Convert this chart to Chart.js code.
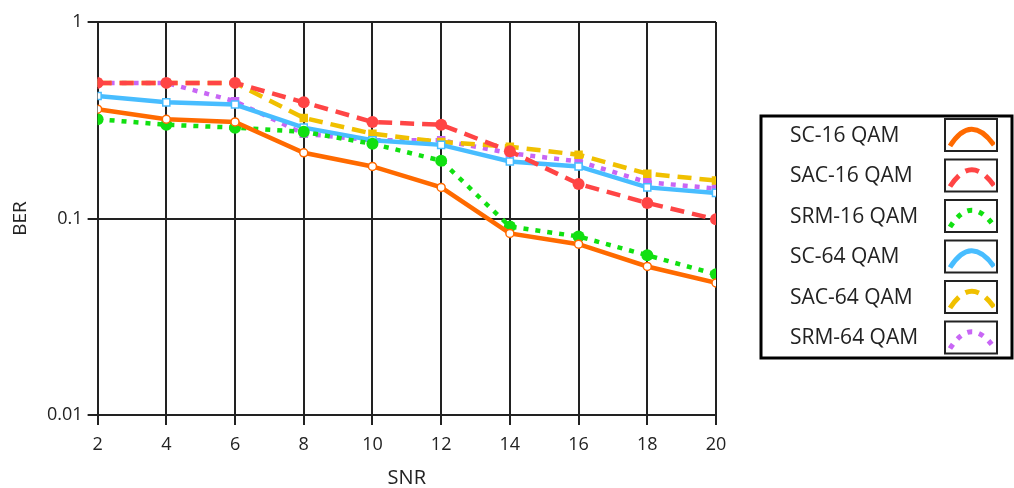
<!DOCTYPE html>
<html lang="en">
<head>
    <meta charset="UTF-8">
    <title>BER vs SNR</title>
    <script src="https://cdn.jsdelivr.net/npm/chart.js"></script>
    <style>
        html, body {
            margin: 0;
            padding: 0;
            background: #ffffff;
        }
        .chart-container {
            width: 1014px;
            height: 488px;
        }
    </style>
</head>
<body>
<div class="chart-container">
    <canvas id="berChart"></canvas>
</div>

<script>
    const snr = [2, 4, 6, 8, 10, 12, 14, 16, 18, 20];
    const yTicks = [0.01, 0.1, 1];

    const sc16 = [0.36, 0.32, 0.31, 0.216, 0.184, 0.144, 0.084, 0.074, 0.057, 0.047];
    const sac16 = [0.49, 0.49, 0.49, 0.39, 0.31, 0.30, 0.22, 0.15, 0.12, 0.099];
    const srm16 = [0.32, 0.30, 0.29, 0.276, 0.24, 0.197, 0.091, 0.081, 0.065, 0.052];
    const sc64 = [0.42, 0.39, 0.38, 0.29, 0.25, 0.237, 0.195, 0.184, 0.144, 0.135];
    const sac64 = [0.49, 0.49, 0.49, 0.325, 0.27, 0.245, 0.232, 0.211, 0.169, 0.156];
    const srm64 = [0.49, 0.49, 0.395, 0.27, 0.25, 0.25, 0.215, 0.195, 0.153, 0.142];

    const FONT = '"Open Sans", "Noto Sans", sans-serif';

    function series(label, values, color, dash, pointStyle, filled, radius) {
        return {
            label: label,
            data: snr.map((x, i) => ({ x: x, y: values[i] })),
            borderColor: color,
            backgroundColor: filled ? color : '#ffffff',
            borderWidth: 4.5,
            borderDash: dash,
            pointStyle: pointStyle,
            pointRadius: radius,
            pointBorderWidth: filled ? 0 : 1.5,
            pointBorderColor: color,
            pointBackgroundColor: filled ? color : '#ffffff',
            tension: 0
        };
    }

    // legend box drawn at the right, like the original instrument panel
    const sideLegend = {
        id: 'sideLegend',
        afterDraw(chart) {
            const ctx = chart.ctx;
            const bx = 761, by = 116, bw = 251, bh = 242;
            ctx.save();
            ctx.strokeStyle = '#000';
            ctx.lineWidth = 3;
            ctx.strokeRect(bx, by, bw, bh);
            ctx.restore();

            chart.data.datasets.forEach((ds, i) => {
                const cy = 135 + i * 40.5;
                ctx.save();
                ctx.fillStyle = '#222';
                ctx.font = '21px ' + FONT;
                ctx.textBaseline = 'middle';
                ctx.textAlign = 'left';
                ctx.fillText(ds.label, 790, cy + 1);

                // sample box
                const sx = 945, sy = cy - 16, sw = 52, sh = 32;
                ctx.lineWidth = 2;
                ctx.strokeStyle = '#222';
                ctx.strokeRect(sx, sy, sw, sh);

                ctx.beginPath();
                ctx.rect(sx + 2, sy + 2, sw - 4, sh - 4);
                ctx.clip();
                ctx.beginPath();
                ctx.moveTo(sx + 5, sy + sh - 5);
                ctx.quadraticCurveTo(sx + sw / 2, sy - 6, sx + sw - 3, sy + sh - 6);
                ctx.strokeStyle = ds.borderColor;
                ctx.lineWidth = 5;
                ctx.setLineDash(ds.borderDash || []);
                ctx.stroke();
                ctx.restore();
            });
        }
    };

    const ctx = document.getElementById('berChart').getContext('2d');
    new Chart(ctx, {
        type: 'line',
        data: {
            datasets: [
                series('SC-16 QAM', sc16, '#ff6a00', [], 'circle', false, 4),
                series('SAC-16 QAM', sac16, '#ff4545', [14, 8], 'circle', true, 6),
                series('SRM-16 QAM', srm16, '#11e011', [5, 7], 'circle', true, 6),
                series('SC-64 QAM', sc64, '#48bdff', [], 'rect', false, 5),
                series('SAC-64 QAM', sac64, '#f0c000', [14, 8], 'rect', true, 6),
                series('SRM-64 QAM', srm64, '#c866f5', [5, 7], 'rect', true, 6)
            ]
        },
        options: {
            responsive: true,
            maintainAspectRatio: false,
            animation: false,
            layout: {
                padding: { top: 22, right: 298, bottom: 0, left: 11 }
            },
            plugins: {
                legend: { display: false },
                tooltip: { enabled: false }
            },
            scales: {
                x: {
                    type: 'linear',
                    min: 2,
                    max: 20,
                    ticks: {
                        stepSize: 2,
                        color: '#222',
                        font: { family: FONT, size: 18, lineHeight: 1 },
                        padding: 11
                    },
                    grid: {
                        color: '#222',
                        lineWidth: 2,
                        tickLength: 10
                    },
                    border: { color: '#222', width: 2 },
                    title: {
                        display: true,
                        text: 'SNR',
                        color: '#222',
                        font: { family: FONT, size: 20, lineHeight: 1 },
                        padding: { top: 3, bottom: 0 }
                    }
                },
                y: {
                    type: 'logarithmic',
                    min: 0.01,
                    max: 1,
                    afterBuildTicks(axis) {
                        axis.ticks = yTicks.map(v => ({ value: v }));
                    },
                    ticks: {
                        color: '#222',
                        font: { family: FONT, size: 18, lineHeight: 1 },
                        padding: 5,
                        callback: v => String(v)
                    },
                    grid: {
                        color: '#222',
                        lineWidth: 2,
                        tickLength: 10
                    },
                    border: { color: '#222', width: 2 },
                    title: {
                        display: true,
                        text: 'BER',
                        color: '#222',
                        font: { family: FONT, size: 19, lineHeight: 1 },
                        padding: { top: 0, bottom: 12 }
                    }
                }
            }
        },
        plugins: [sideLegend]
    });
</script>
</body>
</html>
